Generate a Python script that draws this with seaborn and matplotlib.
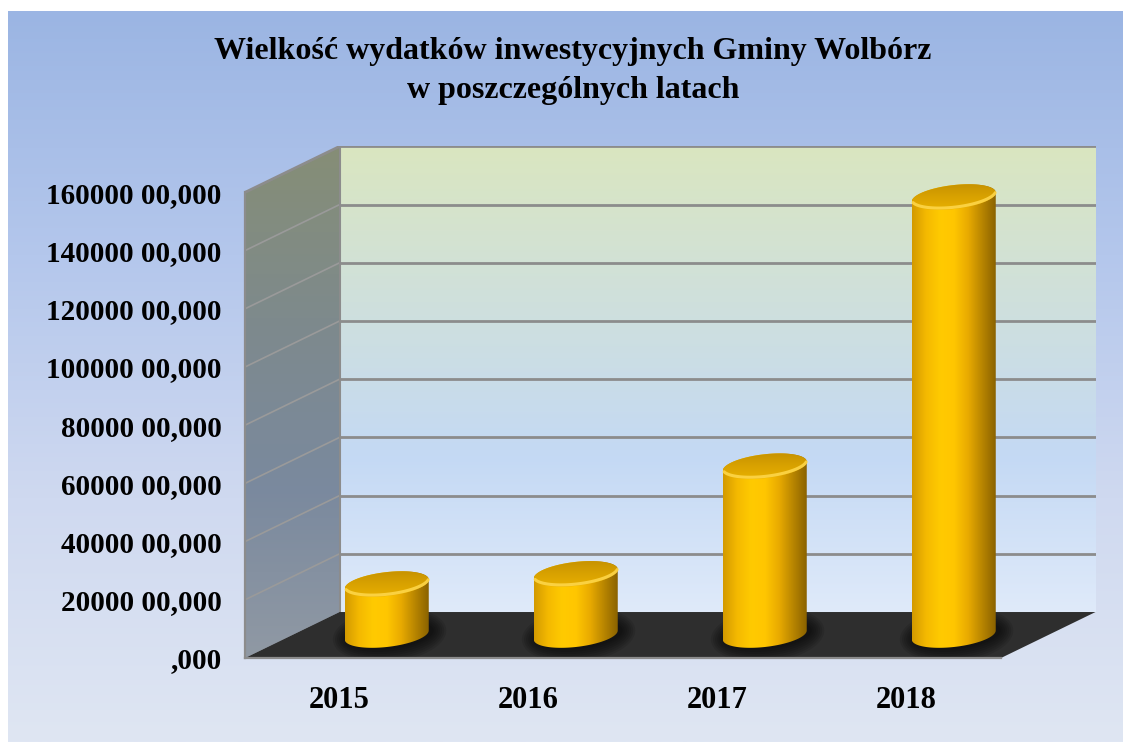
import numpy as np
import matplotlib
matplotlib.use("Agg")
import matplotlib.pyplot as plt
from matplotlib.patches import Polygon
import seaborn as sns

# ---- data ----
years = ["2015", "2016", "2017", "2018"]
spending = [17500, 21000, 58000, 150500]
tick_values = [0, 20000, 40000, 60000, 80000, 100000, 120000, 140000, 160000]
tick_labels = [",000", "20000 00,000", "40000 00,000", "60000 00,000",
               "80000 00,000", "100000 00,000", "120000 00,000",
               "140000 00,000", "160000 00,000"]
title_lines = ["Wielkość wydatków inwestycyjnych Gminy Wolbórz",
               "w poszczególnych latach"]

sns.set_style("white")
plt.rcParams["font.family"] = ["Liberation Serif", "DejaVu Serif"]
plt.rcParams["font.weight"] = "bold"

W, H = 1123, 742
fig = plt.figure(figsize=(W / 100, H / 100), dpi=100, facecolor="white")

# page background gradient
bg = fig.add_axes([8 / W, 0, 1 - 8 / W, 731 / H])
bg_cmap = sns.blend_palette(["#9bb5e3", "#b4c7ec", "#cfd9f0", "#dfe6f3"], as_cmap=True)
bg.imshow(np.linspace(0, 1, 256).reshape(-1, 1), cmap=bg_cmap, aspect="auto",
          extent=[0, 1, 0, 1])
bg.set_axis_off()

# fake 3d geometry (depth offset in data units)
DX, DY = 0.5, 15800
VMAX = tick_values[-1]
px_cat = 189
px_val = 58.2 / 20000
ax = fig.add_axes([245 / W, (H - 658) / H, (4 + DX) * px_cat / W,
                   (VMAX + DY) * px_val / H])
ax.patch.set_alpha(0)
grid_col = "#8c8c8c"

# back wall
wall_cmap = sns.blend_palette(["#dae6c0", "#cfe0dc", "#c4d9f4", "#dfeafa"], as_cmap=True)
ax.imshow(np.linspace(0, 1, 256).reshape(-1, 1), cmap=wall_cmap, aspect="auto",
          extent=[DX, 4 + DX, DY, VMAX + DY], zorder=0)

# left side wall
side = Polygon([(0, 0), (DX, DY), (DX, VMAX + DY), (0, VMAX)], closed=True,
               facecolor="none", edgecolor="none")
ax.add_patch(side)
side_cmap = sns.blend_palette(["#868e76", "#7e8a8c", "#7a899e", "#9099a4"], as_cmap=True)
im = ax.imshow(np.linspace(0, 1, 256).reshape(-1, 1), cmap=side_cmap, aspect="auto",
               extent=[0, DX, 0, VMAX + DY], zorder=0.5)
im.set_clip_path(side)

# gridlines
for v in tick_values[1:]:
    ax.plot([DX, 4 + DX], [v + DY, v + DY], color=grid_col, lw=2, zorder=1,
            solid_capstyle="butt")
    ax.plot([0, DX], [v, v + DY], color="#9a9a9a" if v < VMAX else grid_col,
            lw=1.2 if v < VMAX else 2, zorder=1)
ax.plot([DX, DX], [DY, VMAX + DY], color=grid_col, lw=1.5, zorder=1)

# floor
ax.add_patch(Polygon([(0, 0), (4, 0), (4 + DX, DY), (DX, DY)], closed=True,
                     facecolor="#2e2e2e", edgecolor="none", zorder=2))

# cylinders
A = 42 / px_cat
B = 12 / px_val
S = 4.5 / px_val
body_cmap = sns.blend_palette(["#d39a00", "#f4b900", "#ffca00", "#ffc600",
                               "#e9ab00", "#b98600", "#8a6200"], as_cmap=True)
top_cmap = sns.blend_palette(["#b88600", "#d9a200", "#f4bc00"], as_cmap=True)


def ell(xc, vc, t):
    return xc + A * np.cos(t), vc + B * np.sin(t) + S * np.cos(t)


for i, v in enumerate(spending):
    xc = i + 0.5 + DX / 2
    vb = DY / 2
    vt = vb + v

    # soft shadow on the floor
    for k in range(7, 0, -1):
        t = np.linspace(0, 2 * np.pi, 80)
        sx = xc + 0.015 + A * (1 + 0.05 * k) * np.cos(t)
        sy = vb + B * (1 + 0.18 * k) * np.sin(t) + S * np.cos(t)
        ax.fill(sx, sy, color="black", alpha=0.10, lw=0, zorder=3)

    # silhouette of the body
    t1 = np.linspace(np.pi, 2 * np.pi, 60)
    t2 = np.linspace(0, np.pi, 60)
    bx, by = ell(xc, vb, t1)
    tx, ty = ell(xc, vt, t2)
    sil = Polygon(np.column_stack([np.r_[bx, tx], np.r_[by, ty]]), closed=True,
                  facecolor="none", edgecolor="none", zorder=4)
    ax.add_patch(sil)
    im = ax.imshow(np.linspace(0, 1, 256).reshape(1, -1), cmap=body_cmap,
                   aspect="auto", extent=[xc - A, xc + A, vb - 2 * B, vt + 2 * B],
                   zorder=4)
    im.set_clip_path(sil)

    # top surface
    tt = np.linspace(0, 2 * np.pi, 120)
    ex, ey = ell(xc, vt, tt)
    top = Polygon(np.column_stack([ex, ey]), closed=True, facecolor="none",
                  edgecolor="none", zorder=5)
    ax.add_patch(top)
    im = ax.imshow(np.linspace(0, 1, 256).reshape(-1, 1), cmap=top_cmap,
                   aspect="auto", extent=[xc - A, xc + A, vt - 2 * B, vt + 2 * B],
                   zorder=5)
    im.set_clip_path(top)
    rx, ry = ell(xc, vt + 0.15 * B, np.linspace(np.pi * 1.08, np.pi * 1.95, 60))
    ax.plot(rx, ry, color="#ffd84d", lw=2.2, alpha=0.85, zorder=6,
            solid_capstyle="round")

# axes, ticks and labels
ax.set_xlim(0, 4 + DX)
ax.set_ylim(0, VMAX + DY)
for sp in ["top", "right"]:
    ax.spines[sp].set_visible(False)
ax.spines["left"].set_bounds(0, VMAX)
ax.spines["bottom"].set_bounds(0, 4)
for sp in ["left", "bottom"]:
    ax.spines[sp].set_color(grid_col)
    ax.spines[sp].set_linewidth(1.6)
    ax.spines[sp].set_zorder(7)

ax.set_yticks(tick_values, labels=tick_labels)
ax.tick_params(axis="y", direction="out", length=5, width=1.5, color=grid_col,
               pad=12, labelsize=21, labelcolor="black")
ax.set_xticks(range(5), labels=[""] * 5)
ax.set_xticks([i + 0.5 for i in range(len(years))], labels=years, minor=True)
ax.tick_params(axis="x", which="major", direction="out", length=6, width=1.5,
               color=grid_col)
ax.tick_params(axis="x", which="minor", length=0, pad=20, labelsize=22,
               labelcolor="black")
for lab in ax.get_xticklabels(minor=True) + ax.get_yticklabels():
    lab.set_fontweight("bold")

fig.text(573 / W, (H - 59) / H, title_lines[0], ha="center", va="baseline",
         fontsize=23, fontweight="bold", color="black")
fig.text(573 / W, (H - 98) / H, title_lines[1], ha="center", va="baseline",
         fontsize=23, fontweight="bold", color="black")

fig.savefig("out.png", dpi=100, facecolor="white")
